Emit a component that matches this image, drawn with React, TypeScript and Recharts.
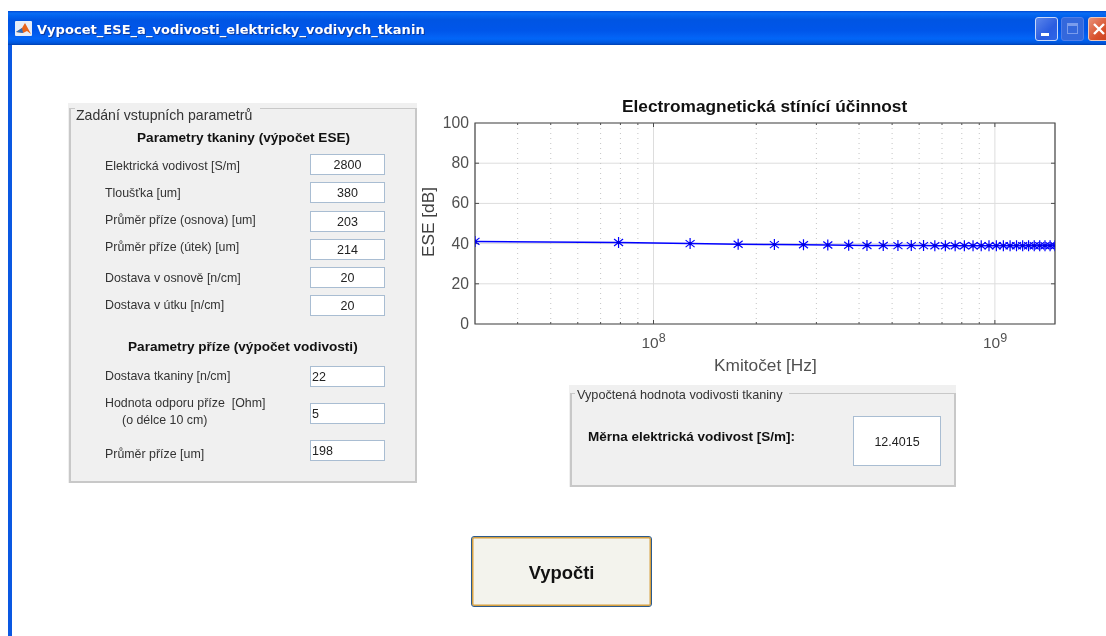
import React from "react";
import { LineChart, Line, XAxis, YAxis, CartesianGrid, ReferenceLine, ReferenceArea } from "recharts";

const WINDOW_TITLE = "Vypocet_ESE_a_vodivosti_elektricky_vodivych_tkanin";
const CHART_TITLE = "Electromagnetická stínící účinnost";
const X_LABEL = "Kmitočet [Hz]";
const Y_LABEL = "ESE [dB]";

const frequenciesMHz = [30, 79, 128, 177, 226, 275, 324, 373, 422, 471, 520, 569, 618, 667, 716, 765, 814, 863, 912, 961, 1010, 1059, 1108, 1157, 1206, 1255, 1304, 1353, 1402, 1451, 1500];
const eseValues = [41.1, 40.5, 40.0, 39.7, 39.5, 39.4, 39.3, 39.2, 39.1, 39.1, 39.0, 39.0, 39.0, 38.9, 38.9, 38.9, 38.9, 38.9, 38.9, 38.9, 38.9, 38.9, 38.9, 38.9, 38.9, 38.9, 38.9, 38.9, 38.9, 38.9, 38.9];
const xMajorTicks = [100000000, 1000000000];
const xMinorTicks = [40000000, 50000000, 60000000, 70000000, 80000000, 90000000, 200000000, 300000000, 400000000, 500000000, 600000000, 700000000, 800000000, 900000000];
const yTicks = [0, 20, 40, 60, 80, 100];
const xDomain = [30000000, 1500000000];

const chartData = frequenciesMHz.map((f, i) => ({ freq: f * 1000000, ese: eseValues[i] }));

const fabricLabels = ["Elektrická vodivost [S/m]", "Tloušťka [um]", "Průměr příze (osnova) [um]", "Průměr příze (útek) [um]", "Dostava v osnově [n/cm]", "Dostava v útku [n/cm]"];
const fabricValues = ["2800", "380", "203", "214", "20", "20"];
const fabricLabelY = [166, 193, 220, 247, 278, 305];
const fabricBoxY = [154, 182, 211, 239, 267, 295];

const yarnValues = ["22", "5", "198"];
const yarnBoxY = [366, 403, 440];

const SANS = "'Liberation Sans', Arial, sans-serif";
const AXIS_COLOR = "#4a4a4a";
const TEXT_COLOR = "#505050";

const abs = (left: number, top: number, extra: any = {}): any => ({ position: "absolute", left, top, ...extra });

function Label({ x, cy, text, size = 12.4, weight = 400, color = "#333" }: any) {
  return <div style={abs(x, cy - 10, { height: 20, lineHeight: "20px", fontFamily: SANS, fontSize: size, fontWeight: weight, color, whiteSpace: "pre" })}>{text}</div>;
}

function Box({ x, y, w, h, text, align = "center", size = 12.5 }: any) {
  return (
    <div style={abs(x, y, { width: w, height: h, boxSizing: "border-box", background: "#fff", border: "1px solid #a9bdd2", fontFamily: SANS, fontSize: size, color: "#222", textAlign: align, lineHeight: `${h}px`, paddingLeft: align === "left" ? 1 : 0 })}>{text}</div>
  );
}

function Panel({ x, y, w, h, lineY, legend, gapStart, gapEnd }: any) {
  const line = "#c8c8c8";
  return (
    <>
      <div style={abs(x, y, { width: w, height: h, background: "#f0f0f0" })} />
      <div style={abs(x + 1, lineY, { width: 1.5, height: y + h - lineY, background: line })} />
      <div style={abs(x + w - 2, lineY, { width: 1.5, height: y + h - lineY, background: line })} />
      <div style={abs(x + 1, y + h - 2, { width: w - 2, height: 1.5, background: line })} />
      <div style={abs(x + 1, lineY, { width: gapStart - x - 1, height: 1, background: line })} />
      <div style={abs(gapEnd, lineY, { width: x + w - gapEnd, height: 1, background: line })} />
      {legend}
    </>
  );
}

function XTick({ x, y, payload }: any) {
  const exponent = Math.round(Math.log10(payload.value));
  return (
    <g>
      <line x1={x} x2={x} y1={y} y2={y - 4} stroke={AXIS_COLOR} />
      <text x={x - 12} y={y + 24} fontFamily={SANS} fontSize={15.5} fill={TEXT_COLOR}>
        10<tspan dy={-6} fontSize={12.5}>{exponent}</tspan>
      </text>
    </g>
  );
}

function YTick({ x, y, payload }: any) {
  return (
    <text x={x} y={y + 5} textAnchor="end" fontFamily={SANS} fontSize={15.7} fill={TEXT_COLOR}>{payload.value}</text>
  );
}

function MinorGridLine({ x1, y1, x2, y2 }: any) {
  const top = Math.min(y1, y2);
  const bottom = Math.max(y1, y2);
  return (
    <g>
      <line x1={x1} x2={x2} y1={top} y2={bottom} stroke="#c4c4c4" strokeDasharray="1 4" />
      <line x1={x1} x2={x1} y1={top} y2={top + 2} stroke={AXIS_COLOR} />
      <line x1={x1} x2={x1} y1={bottom} y2={bottom - 2} stroke={AXIS_COLOR} />
    </g>
  );
}

function MajorTopTick({ x1, y1, y2 }: any) {
  const top = Math.min(y1, y2);
  return <line x1={x1} x2={x1} y1={top} y2={top + 4} stroke={AXIS_COLOR} />;
}

function YEndTicks({ x1, x2, y1 }: any) {
  const l = Math.min(x1, x2);
  const r = Math.max(x1, x2);
  return (
    <g>
      <line x1={l} x2={l + 4} y1={y1} y2={y1} stroke={AXIS_COLOR} />
      <line x1={r} x2={r - 4} y1={y1} y2={y1} stroke={AXIS_COLOR} />
    </g>
  );
}

function Asterisk({ cx, cy }: any) {
  return (
    <g stroke="#0000ff" strokeWidth={1.2} fill="none">
      <line x1={cx} x2={cx} y1={cy - 5.5} y2={cy + 5.5} />
      <line x1={cx - 4.5} x2={cx + 4.5} y1={cy - 3.5} y2={cy + 3.5} />
      <line x1={cx - 4.5} x2={cx + 4.5} y1={cy + 3.5} y2={cy - 3.5} />
      <circle cx={cx} cy={cy} r={1.8} fill="#0000e0" stroke="none" />
    </g>
  );
}

function EseChart() {
  return (
    <LineChart
      width={660}
      height={300}
      data={chartData}
      margin={{ top: 33, right: 25, bottom: 0, left: 0 }}
      style={abs(420, 90)}
    >
      <CartesianGrid stroke="#dddddd" strokeWidth={1} />
      <XAxis
        dataKey="freq"
        type="number"
        scale="log"
        domain={xDomain}
        ticks={xMajorTicks}
        allowDataOverflow
        tickLine={false}
        tickSize={0}
        tickMargin={0}
        interval={0}
        height={66}
        tick={<XTick />}
        axisLine={false}
      />
      <YAxis
        type="number"
        domain={[0, 100]}
        ticks={yTicks}
        width={55}
        tickLine={false}
        tickSize={0}
        tickMargin={6}
        interval={0}
        tick={<YTick />}
        axisLine={false}
      />
      {xMinorTicks.map((v) => (
        <ReferenceLine key={v} x={v} shape={<MinorGridLine />} />
      ))}
      {xMajorTicks.map((v) => (
        <ReferenceLine key={v} x={v} shape={<MajorTopTick />} />
      ))}
      {yTicks.slice(1, -1).map((v) => (
        <ReferenceLine key={v} y={v} shape={<YEndTicks />} />
      ))}
      <ReferenceArea x1={xDomain[0]} x2={xDomain[1]} y1={0} y2={100} fill="none" stroke={AXIS_COLOR} strokeWidth={1.2} />
      <Line dataKey="ese" stroke="#0000ff" strokeWidth={1.5} dot={<Asterisk />} activeDot={false} isAnimationActive={false} />
    </LineChart>
  );
}

function TitleBar() {
  return (
    <>
      <div style={abs(8, 11, { width: 1098, height: 34, background: "linear-gradient(#0048d0, #0a6cf4 6%, #0264ee 14%, #0055e3 26%, #0056ea 58%, #035ff2 72%, #0266f8 82%, #0056dc 94%, #0040b0)" })} />
      <div style={abs(8, 45, { width: 4, height: 591, background: "#0a58e2" })} />
      <svg width={18} height={16} style={abs(15, 21)}>
        <rect x={0} y={0} width={17} height={15} rx={1} fill="#e8eef8" />
        <path d="M1 11 L7 7 L10 2 L16 13 L12 10 L8 12 Z" fill="#e8641c" />
        <path d="M1 11 L7 7 L8 12 Z" fill="#2a6fc0" />
      </svg>
      <div style={abs(37, 20, { height: 20, lineHeight: "20px", fontFamily: "'DejaVu Sans', sans-serif", fontWeight: 700, fontSize: 13, letterSpacing: 0.04, color: "#fff", whiteSpace: "pre", textShadow: "1px 1px 0 #0f3a9a" })}>{WINDOW_TITLE}</div>
      <div style={abs(1035, 17, { width: 23, height: 24, boxSizing: "border-box", borderRadius: 3, border: "1px solid #c8d8f8", background: "linear-gradient(135deg,#5c86ea,#2a5ce0 60%,#2f66e8)" })}>
        <div style={abs(5, 15, { width: 8, height: 3, background: "#fff" })} />
      </div>
      <div style={abs(1061, 17, { width: 23, height: 24, boxSizing: "border-box", borderRadius: 3, border: "1px solid #4f7ee8", background: "#3468dc" })}>
        <div style={abs(5, 5, { width: 11, height: 11, boxSizing: "border-box", border: "1px solid #7a9cec", borderTop: "3px solid #7a9cec" })} />
      </div>
      <div style={abs(1088, 17, { width: 24, height: 24, boxSizing: "border-box", borderRadius: 3, border: "1px solid #eec8b8", background: "linear-gradient(135deg,#e89078,#d8502c 60%,#c84020)" })}>
        <svg width={14} height={14} style={abs(3, 4)}>
          <path d="M2 2 L12 12 M12 2 L2 12" stroke="#fff" strokeWidth={2.4} />
        </svg>
      </div>
    </>
  );
}

export default function App() {
  return (
    <div style={abs(0, 0, { width: 1106, height: 636, overflow: "hidden", background: "#fff", filter: "blur(0.3px)" })}>
      <TitleBar />

      <Panel
        x={68}
        y={103}
        w={349}
        h={380}
        lineY={108}
        gapStart={75}
        gapEnd={260}
        legend={<Label x={76} cy={115} text="Zadání vstupních parametrů" size={14.1} />}
      />
      <Label x={137} cy={138} text="Parametry tkaniny (výpočet ESE)" size={13.6} weight={700} color="#111" />
      {fabricLabels.map((t, i) => (
        <Label key={t} x={105} cy={fabricLabelY[i]} text={t} />
      ))}
      {fabricValues.map((t, i) => (
        <Box key={i} x={310} y={fabricBoxY[i]} w={75} h={21} text={t} />
      ))}

      <Label x={128} cy={347} text="Parametry příze (výpočet vodivosti)" size={13.6} weight={700} color="#111" />
      <Label x={105} cy={376} text="Dostava tkaniny [n/cm]" />
      <Label x={105} cy={403} text="Hodnota odporu příze  [Ohm]" />
      <Label x={122} cy={420} text="(o délce 10 cm)" />
      <Label x={105} cy={454} text="Průměr příze [um]" />
      {yarnValues.map((t, i) => (
        <Box key={i} x={310} y={yarnBoxY[i]} w={75} h={21} text={t} align="left" />
      ))}

      <Panel
        x={569}
        y={385}
        w={387}
        h={102}
        lineY={393}
        gapStart={575}
        gapEnd={789}
        legend={<Label x={577} cy={395} text="Vypočtená hodnota vodivosti tkaniny" size={12.7} />}
      />
      <Label x={588} cy={437} text="Měrna elektrická vodivost [S/m]:" size={13.5} weight={700} color="#111" />
      <Box x={853} y={416} w={88} h={50} text="12.4015" />

      <div style={abs(471, 536, { width: 181, height: 71, boxSizing: "border-box", borderRadius: 3, border: "1px solid #2c5a8c", background: "#f3f3ed", boxShadow: "inset 0 0 0 1.5px #d6a040", textAlign: "center", lineHeight: "71px", fontFamily: SANS, fontWeight: 700, fontSize: 18.4, color: "#111" })}>Vypočti</div>

      <div style={abs(622, 96, { height: 20, lineHeight: "20px", fontFamily: SANS, fontWeight: 700, fontSize: 17.3, color: "#111", whiteSpace: "pre" })}>{CHART_TITLE}</div>
      <EseChart />
      <div style={abs(714, 355, { height: 20, lineHeight: "20px", fontFamily: SANS, fontSize: 17.3, color: TEXT_COLOR, whiteSpace: "pre" })}>{X_LABEL}</div>
      <div style={abs(428, 222, { height: 20, lineHeight: "20px", fontFamily: SANS, fontSize: 17.3, color: "#404040", whiteSpace: "pre", transform: "translate(-50%,-50%) rotate(-90deg)" })}>{Y_LABEL}</div>
    </div>
  );
}
